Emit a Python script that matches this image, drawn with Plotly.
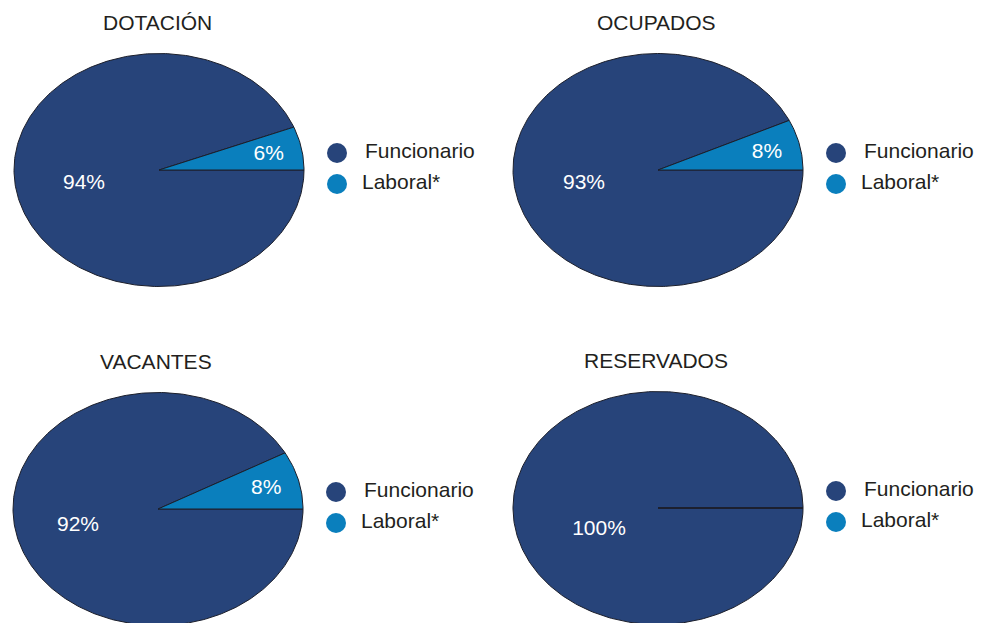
"""
Distribución de puestos por tipo de personal: cuatro tartas elípticas.
"""
import numpy as np
import plotly.graph_objects as go

titles = ["DOTACIÓN", "OCUPADOS", "VACANTES", "RESERVADOS"]
categories = ["Funcionario", "Laboral*"]
funcionario = [94, 93, 92, 100]
laboral = [6, 7, 8, 0]
label_funcionario = ["94%", "93%", "92%", "100%"]
label_laboral = ["6%", "8%", "8%", ""]

# layout (pixel space); the page body adds an 8px margin, so ranges are shifted
W, H = 988, 623
OFF = 8
centers = [(159, 170), (658, 170), (158, 509), (658, 508)]
big_label_offsets = [(-75, 14), (-74, 14), (-80, 17), (-59, 22)]
RX, RY = 145, 116.5
colors = {"Funcionario": "#27447a", "Laboral*": "#0a7fbd"}
FONT = "Liberation Sans, Arial, Helvetica, sans-serif"

fig = go.Figure()


def wedge(cx, cy, t0, t1):
    n = max(2, int(abs(t1 - t0) * 180 / np.pi) + 2)
    t = np.linspace(t0, t1, n)
    xs = np.concatenate([[cx], cx + RX * np.cos(t), [cx]])
    ys = np.concatenate([[cy], cy - RY * np.sin(t), [cy]])
    return xs, ys


for i, title in enumerate(titles):
    cx, cy = centers[i]
    total = funcionario[i] + laboral[i]
    t_lab = 2 * np.pi * laboral[i] / total

    # big slice first, small slice on top
    xs, ys = wedge(cx, cy, t_lab, 2 * np.pi)
    fig.add_trace(go.Scatter(
        x=xs, y=ys, mode="lines", fill="toself",
        fillcolor=colors["Funcionario"],
        line=dict(color="#1c1f2b", width=1),
        hoverinfo="skip", showlegend=False,
    ))
    xs, ys = wedge(cx, cy, 0, t_lab)
    fig.add_trace(go.Scatter(
        x=xs, y=ys, mode="lines", fill="toself",
        fillcolor=colors["Laboral*"],
        line=dict(color="#1c1f2b", width=1),
        hoverinfo="skip", showlegend=False,
    ))

    # slice labels
    mid_l = t_lab / 2
    dx, dy = big_label_offsets[i]
    fig.add_trace(go.Scatter(
        x=[cx + dx, cx + 0.77 * RX * np.cos(mid_l)],
        y=[cy + dy, cy - 0.77 * RY * np.sin(mid_l) + 2],
        mode="text",
        text=[label_funcionario[i], label_laboral[i]],
        textfont=dict(family=FONT, size=21, color="white"),
        hoverinfo="skip", showlegend=False,
    ))

    # legend
    fig.add_trace(go.Scatter(
        x=[cx + 178, cx + 178],
        y=[cy - 17, cy + 14],
        mode="markers",
        marker=dict(size=20, color=[colors[c] for c in categories]),
        hoverinfo="skip", showlegend=False,
    ))
    fig.add_trace(go.Scatter(
        x=[cx + 206, cx + 203],
        y=[cy - 17, cy + 14],
        mode="text",
        text=categories,
        textposition="middle right",
        textfont=dict(family=FONT, size=21, color="#231f20"),
        hoverinfo="skip", showlegend=False,
    ))

    fig.add_annotation(
        x=cx - 2, y=cy - 148, text=title, showarrow=False,
        font=dict(family=FONT, size=21, color="#231f20"),
        xanchor="center", yanchor="middle",
    )

fig.update_xaxes(range=[OFF, W + OFF], visible=False, fixedrange=True)
fig.update_yaxes(range=[H + OFF, OFF], visible=False, fixedrange=True)
fig.update_layout(
    width=W, height=H,
    margin=dict(l=0, r=0, t=0, b=0),
    paper_bgcolor="white", plot_bgcolor="white",
)

fig.write_html("out.html")
